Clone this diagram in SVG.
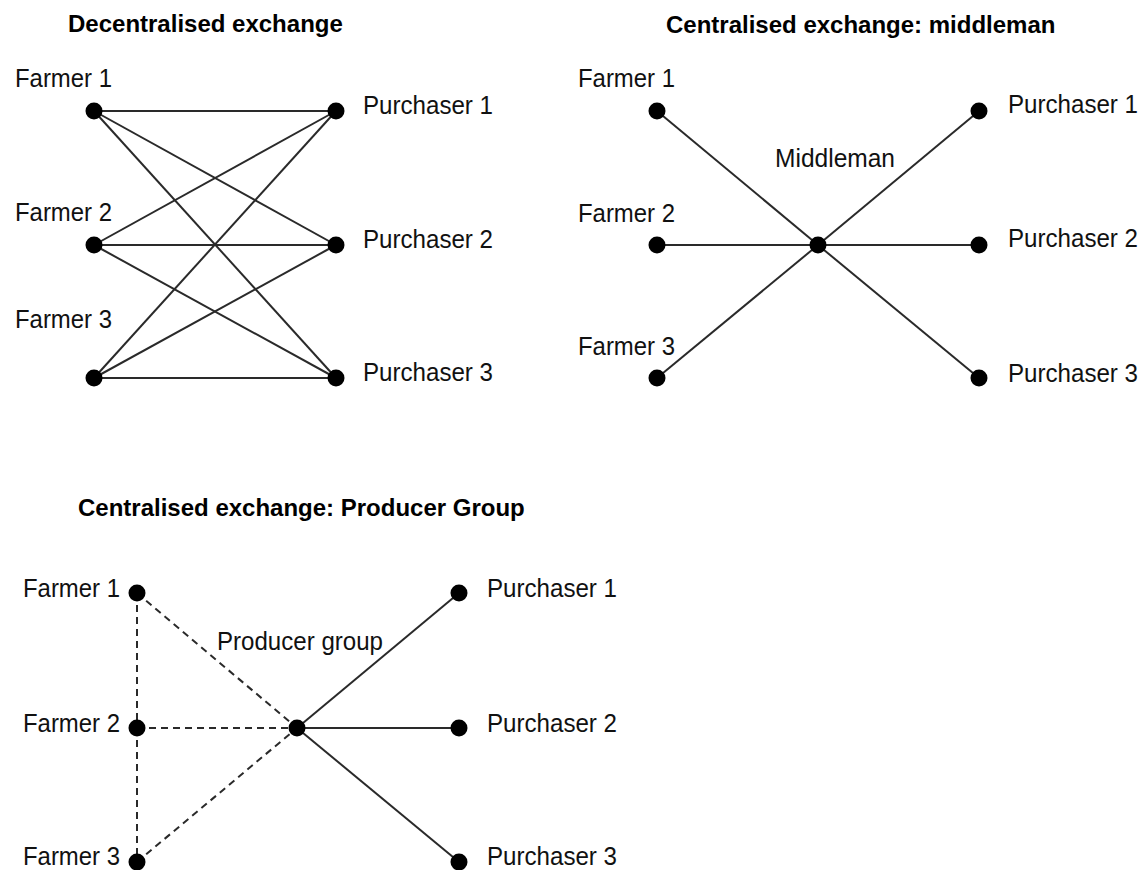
<svg xmlns="http://www.w3.org/2000/svg" width="1147" height="870" viewBox="0 0 1147 870">
<style>
.title{font-family:"Liberation Sans",Arial,sans-serif;font-weight:bold;font-size:24px;fill:#000}
.lbl{font-family:"Liberation Sans",Arial,sans-serif;font-size:26px;fill:#111}
.dot{fill:#000}
.ln{stroke:#2a2a2a;stroke-width:2;fill:none}
.dash{stroke:#2a2a2a;stroke-width:2;fill:none;stroke-dasharray:7 5}
</style>
<rect width="1147" height="870" fill="#fff"/>
<text class="title" x="68" y="32">Decentralised exchange</text>
<text class="title" x="666" y="33">Centralised exchange: middleman</text>
<text class="title" x="78" y="516">Centralised exchange: Producer Group</text>
<g id="connectors">
<line class="ln" x1="94" y1="111" x2="336" y2="111"/>
<line class="ln" x1="94" y1="111" x2="336" y2="245"/>
<line class="ln" x1="94" y1="111" x2="336" y2="378"/>
<line class="ln" x1="94" y1="245" x2="336" y2="111"/>
<line class="ln" x1="94" y1="245" x2="336" y2="245"/>
<line class="ln" x1="94" y1="245" x2="336" y2="378"/>
<line class="ln" x1="94" y1="378" x2="336" y2="111"/>
<line class="ln" x1="94" y1="378" x2="336" y2="245"/>
<line class="ln" x1="94" y1="378" x2="336" y2="378"/>
<line class="ln" x1="657" y1="111" x2="818" y2="245"/>
<line class="ln" x1="657" y1="245" x2="818" y2="245"/>
<line class="ln" x1="657" y1="378" x2="818" y2="245"/>
<line class="ln" x1="818" y1="245" x2="979" y2="111"/>
<line class="ln" x1="818" y1="245" x2="979" y2="245"/>
<line class="ln" x1="818" y1="245" x2="979" y2="378"/>
<line class="dash" x1="137" y1="593" x2="137" y2="728"/>
<line class="dash" x1="137" y1="728" x2="137" y2="862"/>
<line class="dash" x1="137" y1="593" x2="297" y2="728"/>
<line class="dash" x1="137" y1="728" x2="297" y2="728"/>
<line class="dash" x1="137" y1="862" x2="297" y2="728"/>
<line class="ln" x1="297" y1="728" x2="459" y2="593"/>
<line class="ln" x1="297" y1="728" x2="459" y2="728"/>
<line class="ln" x1="297" y1="728" x2="459" y2="862"/>
</g>
<g id="d-farmer1"><circle class="dot" cx="94" cy="111" r="8.5"/><text class="lbl" x="15" y="87" textLength="97" lengthAdjust="spacingAndGlyphs">Farmer 1</text></g>
<g id="d-farmer2"><circle class="dot" cx="94" cy="245" r="8.5"/><text class="lbl" x="15" y="221" textLength="97" lengthAdjust="spacingAndGlyphs">Farmer 2</text></g>
<g id="d-farmer3"><circle class="dot" cx="94" cy="378" r="8.5"/><text class="lbl" x="15" y="328" textLength="97" lengthAdjust="spacingAndGlyphs">Farmer 3</text></g>
<g id="d-purchaser1"><circle class="dot" cx="336" cy="111" r="8.5"/><text class="lbl" x="363" y="114" textLength="130" lengthAdjust="spacingAndGlyphs">Purchaser 1</text></g>
<g id="d-purchaser2"><circle class="dot" cx="336" cy="245" r="8.5"/><text class="lbl" x="363" y="248" textLength="130" lengthAdjust="spacingAndGlyphs">Purchaser 2</text></g>
<g id="d-purchaser3"><circle class="dot" cx="336" cy="378" r="8.5"/><text class="lbl" x="363" y="381" textLength="130" lengthAdjust="spacingAndGlyphs">Purchaser 3</text></g>
<g id="m-farmer1"><circle class="dot" cx="657" cy="111" r="8.5"/><text class="lbl" x="578" y="87" textLength="97" lengthAdjust="spacingAndGlyphs">Farmer 1</text></g>
<g id="m-farmer2"><circle class="dot" cx="657" cy="245" r="8.5"/><text class="lbl" x="578" y="222" textLength="97" lengthAdjust="spacingAndGlyphs">Farmer 2</text></g>
<g id="m-farmer3"><circle class="dot" cx="657" cy="378" r="8.5"/><text class="lbl" x="578" y="355" textLength="97" lengthAdjust="spacingAndGlyphs">Farmer 3</text></g>
<g id="m-middleman"><circle class="dot" cx="818" cy="245" r="8.5"/><text class="lbl" x="775" y="167" textLength="120" lengthAdjust="spacingAndGlyphs">Middleman</text></g>
<g id="m-purchaser1"><circle class="dot" cx="979" cy="111" r="8.5"/><text class="lbl" x="1008" y="113" textLength="130" lengthAdjust="spacingAndGlyphs">Purchaser 1</text></g>
<g id="m-purchaser2"><circle class="dot" cx="979" cy="245" r="8.5"/><text class="lbl" x="1008" y="247" textLength="130" lengthAdjust="spacingAndGlyphs">Purchaser 2</text></g>
<g id="m-purchaser3"><circle class="dot" cx="979" cy="378" r="8.5"/><text class="lbl" x="1008" y="382" textLength="130" lengthAdjust="spacingAndGlyphs">Purchaser 3</text></g>
<g id="p-farmer1"><circle class="dot" cx="137" cy="593" r="8.5"/><text class="lbl" x="23" y="597" textLength="97" lengthAdjust="spacingAndGlyphs">Farmer 1</text></g>
<g id="p-farmer2"><circle class="dot" cx="137" cy="728" r="8.5"/><text class="lbl" x="23" y="732" textLength="97" lengthAdjust="spacingAndGlyphs">Farmer 2</text></g>
<g id="p-farmer3"><circle class="dot" cx="137" cy="862" r="8.5"/><text class="lbl" x="23" y="865" textLength="97" lengthAdjust="spacingAndGlyphs">Farmer 3</text></g>
<g id="p-group"><circle class="dot" cx="297" cy="728" r="8.5"/><text class="lbl" x="217" y="650" textLength="166" lengthAdjust="spacingAndGlyphs">Producer group</text></g>
<g id="p-purchaser1"><circle class="dot" cx="459" cy="593" r="8.5"/><text class="lbl" x="487" y="597" textLength="130" lengthAdjust="spacingAndGlyphs">Purchaser 1</text></g>
<g id="p-purchaser2"><circle class="dot" cx="459" cy="728" r="8.5"/><text class="lbl" x="487" y="732" textLength="130" lengthAdjust="spacingAndGlyphs">Purchaser 2</text></g>
<g id="p-purchaser3"><circle class="dot" cx="459" cy="862" r="8.5"/><text class="lbl" x="487" y="865" textLength="130" lengthAdjust="spacingAndGlyphs">Purchaser 3</text></g>
</svg>
